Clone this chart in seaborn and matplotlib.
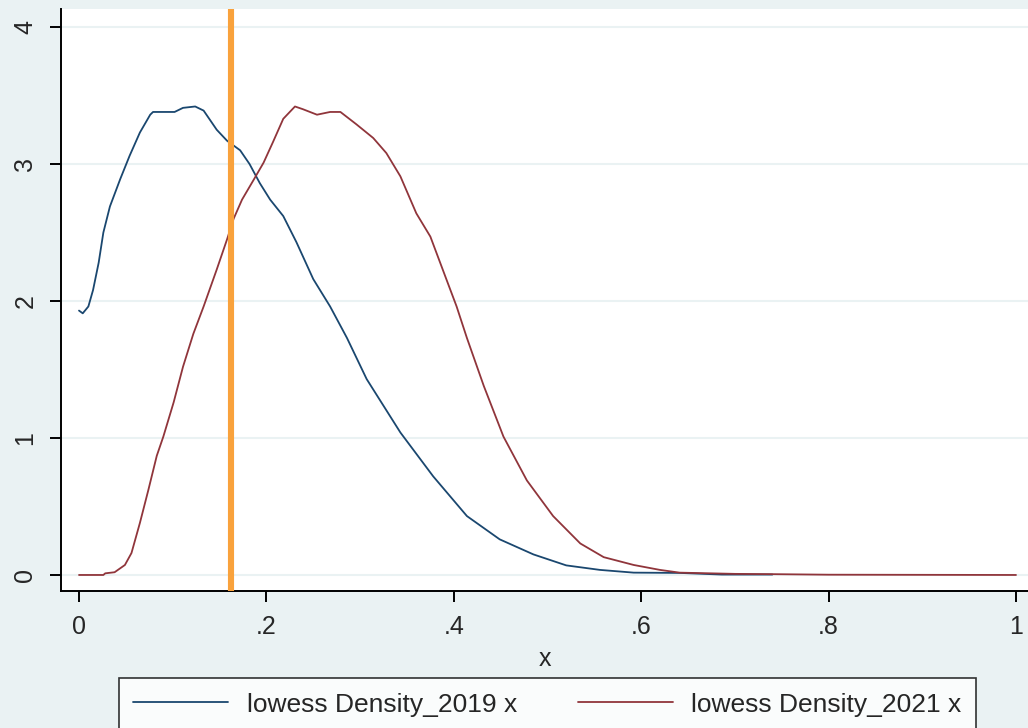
import numpy as np
import pandas as pd
import seaborn as sns
import matplotlib.pyplot as plt
from matplotlib.ticker import FuncFormatter

# lowess-smoothed densities
x_2019 = [0.0, 0.004, 0.010, 0.015, 0.021, 0.026, 0.033, 0.044, 0.054, 0.065,
          0.076, 0.079, 0.102, 0.111, 0.124, 0.133, 0.147, 0.158, 0.172, 0.182,
          0.193, 0.204, 0.218, 0.232, 0.250, 0.268, 0.286, 0.307, 0.343, 0.378,
          0.414, 0.449, 0.485, 0.520, 0.556, 0.592, 0.641, 0.686, 0.740]
y_2019 = [1.93, 1.91, 1.96, 2.08, 2.28, 2.50, 2.69, 2.89, 3.06, 3.23,
          3.36, 3.38, 3.38, 3.41, 3.42, 3.39, 3.25, 3.17, 3.10, 3.00,
          2.86, 2.74, 2.62, 2.43, 2.16, 1.96, 1.73, 1.43, 1.04, 0.72,
          0.43, 0.26, 0.15, 0.07, 0.037, 0.017, 0.015, 0.003, 0.003]

x_2021 = [0.0, 0.026, 0.028, 0.038, 0.049, 0.056, 0.065, 0.074, 0.083, 0.090,
          0.101, 0.111, 0.122, 0.133, 0.147, 0.158, 0.165, 0.174, 0.186, 0.197,
          0.207, 0.218, 0.2305, 0.239, 0.254, 0.268, 0.279, 0.296, 0.314, 0.328,
          0.343, 0.360, 0.375, 0.392, 0.403, 0.414, 0.432, 0.453, 0.478, 0.506,
          0.535, 0.560, 0.592, 0.620, 0.641, 0.700, 0.740, 0.800, 1.0]
y_2021 = [0.0, 0.0, 0.012, 0.02, 0.073, 0.16, 0.38, 0.62, 0.87, 1.01,
          1.26, 1.52, 1.76, 1.96, 2.23, 2.45, 2.60, 2.74, 2.88, 3.01,
          3.16, 3.33, 3.42, 3.40, 3.36, 3.38, 3.38, 3.29, 3.19, 3.08,
          2.91, 2.64, 2.47, 2.16, 1.96, 1.73, 1.38, 1.01, 0.69, 0.43,
          0.23, 0.13, 0.073, 0.037, 0.017, 0.008, 0.006, 0.002, 0.0]

xline_at = 0.162
x_ticks = [0, 0.2, 0.4, 0.6, 0.8, 1.0]
y_ticks = [0, 1, 2, 3, 4]
labels = ["lowess Density_2019 x", "lowess Density_2021 x"]

sns.set_style("white")
plt.rcParams['font.family'] = ['Liberation Sans', 'DejaVu Sans']

bg = "#eaf2f3"
fig = plt.figure(figsize=(10.28, 7.28), dpi=100, facecolor=bg)
ax = fig.add_axes([61 / 1028, 1 - 591 / 728, 1 - 61 / 1028, (591 - 9) / 728])
ax.set_facecolor("white")

for y in y_ticks:
    ax.axhline(y, color=bg, lw=1.5, zorder=0)

sns.lineplot(x=x_2019, y=y_2019, color="#1a476f", lw=1.3, label=labels[0], ax=ax,
             legend=False)
sns.lineplot(x=x_2021, y=y_2021, color="#90353b", lw=1.3, label=labels[1], ax=ax,
             legend=False)
ax.axvline(xline_at, color="#f9a23c", lw=4.4, zorder=3)

ax.set_xlim(-18 / 937, 1 + 12 / 937)
ax.set_ylim(-16 / 136.75, 4 + 18 / 136.75)
ax.set_xticks(x_ticks)
ax.set_yticks(y_ticks)
ax.xaxis.set_major_formatter(FuncFormatter(
    lambda v, p: "0" if v == 0 else ("1" if v == 1 else f"{v:.1f}".lstrip("0"))))
ax.tick_params(axis='both', direction='out', length=8, width=1.4, color='black',
               labelsize=18, pad=9, bottom=True, left=True)
for t in ax.get_yticklabels():
    t.set_rotation(90)
    t.set_va('center')
ax.set_xlabel("x", fontsize=18, labelpad=6)
ax.set_ylabel("")

for side in ['top', 'right']:
    ax.spines[side].set_visible(False)
for side in ['left', 'bottom']:
    ax.spines[side].set_color('black')
    ax.spines[side].set_linewidth(1.4)

handles = ax.get_lines()[len(y_ticks):len(y_ticks) + 2]
leg = fig.legend(handles, labels, loc='upper center', ncol=2,
                 bbox_to_anchor=(0.5326, 1 - 678 / 728), fontsize=19,
                 frameon=True, fancybox=False, handlelength=3.6,
                 handletextpad=0.7, columnspacing=2.3, borderpad=0.55,
                 borderaxespad=0)
leg.get_frame().set_edgecolor('black')
leg.get_frame().set_linewidth(1.2)
leg.get_frame().set_facecolor('white')

fig.savefig("out.png", dpi=100, facecolor=bg)
